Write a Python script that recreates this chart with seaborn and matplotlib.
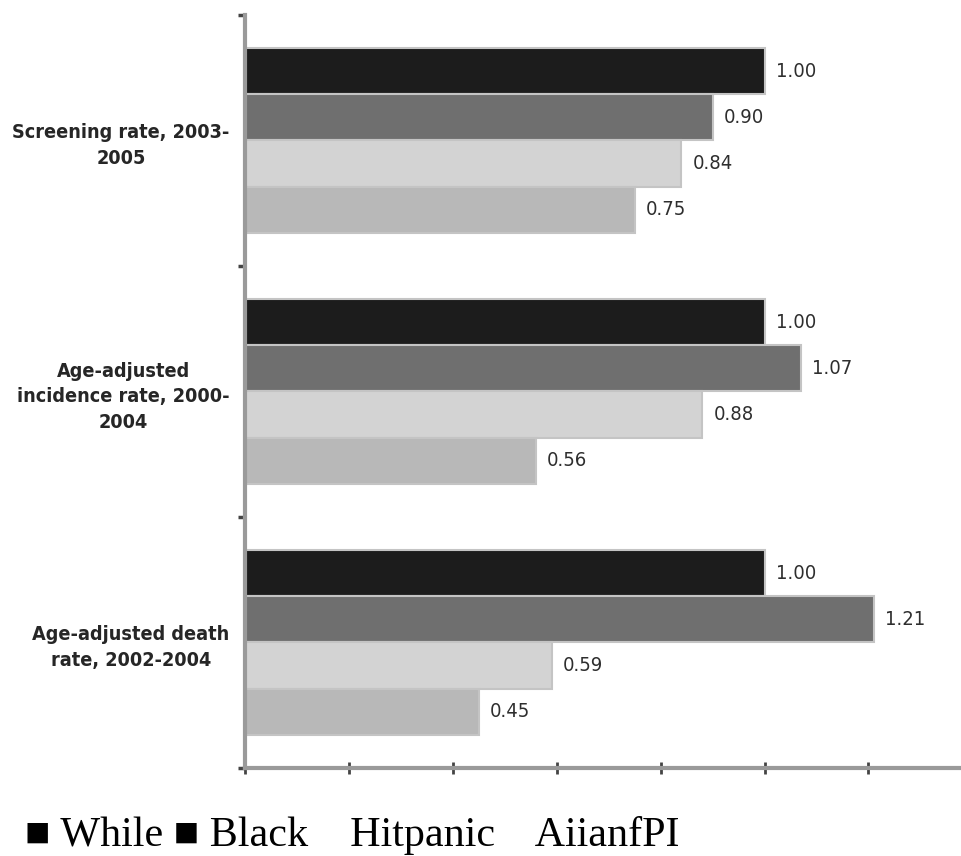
import numpy as np
import pandas as pd
import matplotlib
matplotlib.use('Agg')
import matplotlib.pyplot as plt
from matplotlib import font_manager
import seaborn as sns

# datos
measures = ['Screening rate, 2003-\n2005',
            'Age-adjusted\nincidence rate, 2000-\n2004',
            'Age-adjusted death\nrate, 2002-2004']
groups = ['While', 'Black', 'Hitpanic', 'AiianfPI']
screening = [1.00, 0.90, 0.84, 0.75]
incidence = [1.00, 1.07, 0.88, 0.56]
death = [1.00, 1.21, 0.59, 0.45]
colores = ['#1c1c1c', '#6f6f6f', '#d3d3d3', '#b8b8b8']
legend_text = '\u25a0 While \u25a0 Black    Hitpanic    AiianfPI'

rows = []
for m, vals in zip(measures, [screening, incidence, death]):
    for g, v in zip(groups, vals):
        rows.append({'measure': m, 'group': g, 'value': v})
df = pd.DataFrame(rows)

sns.set_style('white')

# buscar una fuente estrecha si existe
condensada = any(f.name == 'DejaVu Sans' and f.stretch in ('condensed', 'semi-condensed')
                 for f in font_manager.fontManager.ttflist)
narrow = ['DejaVu Sans']
stretch = 'condensed' if condensada else 'normal'
cat_size = 14.2 if condensada else 12
val_size = 14.5 if condensada else 12.5

fig = plt.figure(figsize=(9.62, 8.56), dpi=100)
ax = fig.add_axes([0.2547, 0.1028, 0.7453, 0.8797])
sns.barplot(data=df, y='measure', x='value', hue='group', orient='h',
            palette=colores, width=0.735, gap=0, saturation=1,
            edgecolor='#c4c4c4', linewidth=1.5, legend=False, ax=ax)

for cont in ax.containers:
    ax.bar_label(cont, fmt='%.2f', padding=8, fontsize=val_size, color='#2e2e2e',
                 family=narrow, fontstretch=stretch)

ax.set_xlim(0, 1.38)
ax.set_ylim(2.5, -0.5)
ax.set_xlabel('')
ax.set_ylabel('')
ax.set_xticks(np.arange(0, 1.4, 0.2))
ax.set_xticklabels([])
ax.set_yticks([-0.5, 0.5, 1.5, 2.5], minor=True)
for lab in ax.get_yticklabels():
    lab.set_fontfamily(narrow)
    lab.set_fontstretch(stretch)
    lab.set_fontweight('bold')
    lab.set_fontsize(cat_size)
    lab.set_multialignment('center')
    lab.set_linespacing(1.45)
ax.tick_params(axis='y', which='major', length=0, pad=11)
ax.tick_params(axis='y', which='minor', left=True, length=5, width=2.5, color='#444444')
ax.tick_params(axis='x', bottom=True, length=9, width=2, direction='inout', color='#444444')

for s in ['top', 'right']:
    ax.spines[s].set_visible(False)
for s in ['left', 'bottom']:
    ax.spines[s].set_color('#9a9a9a')
    ax.spines[s].set_linewidth(3)

fig.text(0.026, 0.012, legend_text, fontsize=30.3, color='black',
         family=['Liberation Serif', 'DejaVu Serif'], ha='left', va='baseline')

plt.savefig('out.png', dpi=100)
plt.close()
